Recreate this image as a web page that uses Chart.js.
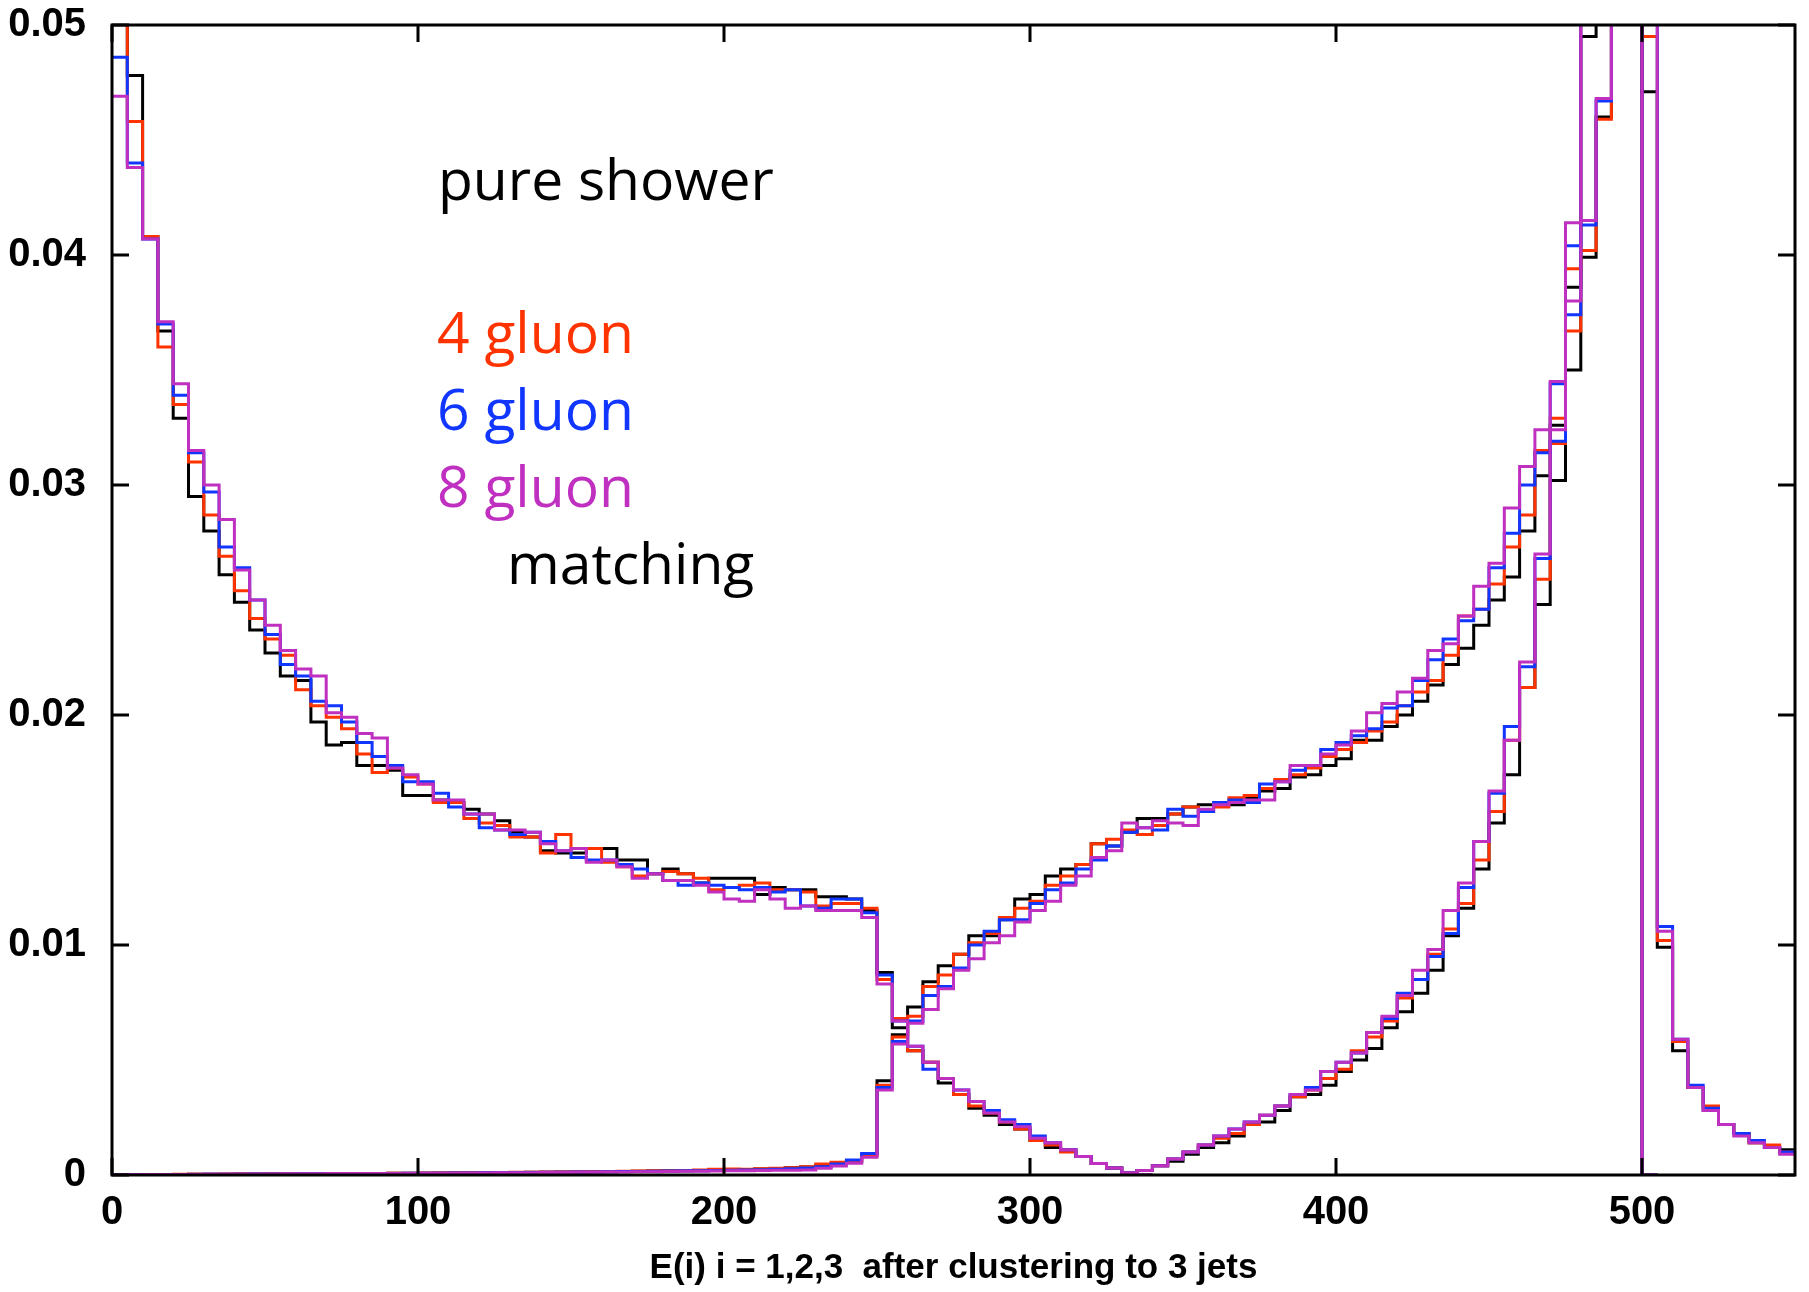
<!DOCTYPE html>
<html>
<head>
<meta charset="utf-8">
<title>E(i) after clustering to 3 jets</title>
<script src="https://cdn.jsdelivr.net/npm/chart.js@4.4.1/dist/chart.umd.min.js"></script>
<style>
  html, body { margin: 0; padding: 0; background: #fff; }
  #wrap { width: 1809px; height: 1292px; }
</style>
</head>
<body>
<div id="wrap"><canvas id="energyChart" width="1809" height="1292"></canvas></div>
<script>
// histogram binning, GeV
const binWidth = 5;
const xMin = 0, xMax = 550;
const yMin = 0, yMax = 0.05;
const xTicks = [0, 100, 200, 300, 400, 500];
const yTicks = [0, 0.01, 0.02, 0.03, 0.04, 0.05];
const yTickLabels = ['0', '0.01', '0.02', '0.03', '0.04', '0.05'];
const xTitle = 'E(i) i = 1,2,3  after clustering to 3 jets';

// index of the first bin stored in each array
const e3FirstBin = 0;
const e2FirstBin = 0;
const e1FirstBin = 66;

// softest jet E3
const e3Shower = [
  0.0550, 0.0478, 0.0408, 0.0367, 0.0329, 0.0295, 0.0280, 0.0261, 0.0249, 0.0237,
  0.0227, 0.0217, 0.0215, 0.0197, 0.0187, 0.0188, 0.0178, 0.0178, 0.0176, 0.0165,
  0.0165, 0.0163, 0.0162, 0.0159, 0.0157, 0.0154, 0.0149, 0.0147, 0.0141, 0.0140,
  0.0140, 0.0142, 0.0142, 0.0137, 0.0137, 0.0131, 0.0133, 0.0131, 0.0127, 0.0129,
  0.0129, 0.0129, 0.0122, 0.0125, 0.0124, 0.0124, 0.0121, 0.0121, 0.0120, 0.0115,
  0.0088, 0.0064, 0.0054, 0.0049, 0.0040, 0.0035, 0.0029, 0.0026, 0.0022, 0.0020,
  0.0015, 0.0012, 0.0011, 0.0008, 0.0005, 0.0003, 0.0001, 0
];
const e3Gluon4 = [
  0.0530, 0.0458, 0.0408, 0.0360, 0.0335, 0.0310, 0.0287, 0.0269, 0.0254, 0.0242,
  0.0233, 0.0226, 0.0211, 0.0204, 0.0199, 0.0194, 0.0183, 0.0175, 0.0177, 0.0173,
  0.0170, 0.0162, 0.0162, 0.0155, 0.0153, 0.0152, 0.0147, 0.0147, 0.0140, 0.0148,
  0.0142, 0.0142, 0.0136, 0.0134, 0.0130, 0.0131, 0.0132, 0.0131, 0.0129, 0.0124,
  0.0125, 0.0126, 0.0127, 0.0124, 0.0124, 0.0123, 0.0117, 0.0118, 0.0118, 0.0116,
  0.0085, 0.0068, 0.0054, 0.0049, 0.0042, 0.0035, 0.0030, 0.0027, 0.0023, 0.0020,
  0.0015, 0.0013, 0.0010, 0.0008, 0.0005, 0.0003, 0.0001, 0
];
const e3Gluon6 = [
  0.0486, 0.0440, 0.0407, 0.0370, 0.0339, 0.0314, 0.0297, 0.0273, 0.0264, 0.0250,
  0.0235, 0.0222, 0.0217, 0.0206, 0.0204, 0.0197, 0.0188, 0.0182, 0.0178, 0.0171,
  0.0171, 0.0166, 0.0160, 0.0157, 0.0151, 0.0150, 0.0148, 0.0149, 0.0145, 0.0141,
  0.0138, 0.0137, 0.0137, 0.0135, 0.0133, 0.0131, 0.0128, 0.0126, 0.0127, 0.0126,
  0.0125, 0.0124, 0.0125, 0.0123, 0.0124, 0.0117, 0.0116, 0.0120, 0.0120, 0.0114,
  0.0087, 0.0067, 0.0056, 0.0046, 0.0042, 0.0037, 0.0032, 0.0028, 0.0024, 0.0022,
  0.0017, 0.0014, 0.0011, 0.0008, 0.0005, 0.0003, 0.0001, 0
];
const e3Gluon8 = [
  0.0469, 0.0438, 0.0407, 0.0371, 0.0344, 0.0315, 0.0300, 0.0285, 0.0263, 0.0250,
  0.0239, 0.0228, 0.0220, 0.0217, 0.0201, 0.0199, 0.0192, 0.0190, 0.0177, 0.0174,
  0.0170, 0.0163, 0.0163, 0.0157, 0.0157, 0.0150, 0.0150, 0.0149, 0.0144, 0.0141,
  0.0142, 0.0136, 0.0137, 0.0134, 0.0129, 0.0131, 0.0128, 0.0128, 0.0126, 0.0123,
  0.0120, 0.0119, 0.0124, 0.0120, 0.0116, 0.0117, 0.0115, 0.0115, 0.0115, 0.0112,
  0.0083, 0.0067, 0.0056, 0.0049, 0.0042, 0.0037, 0.0032, 0.0027, 0.0023, 0.0021,
  0.0016, 0.0014, 0.0011, 0.0008, 0.0005, 0.0003, 0.0001, 0
];

// middle jet E2
const e2Shower = [
  0, 0.00001, 0.00001, 0.00002, 0.00002, 0.00003, 0.00003, 0.00003, 0.00004, 0.00004,
  0.00004, 0.00005, 0.00005, 0.00006, 0.00006, 0.00006, 0.00007, 0.00007, 0.00008, 0.00008,
  0.00008, 0.00009, 0.00009, 0.00010, 0.00010, 0.00011, 0.00011, 0.00012, 0.00012, 0.00013,
  0.00013, 0.00014, 0.00014, 0.00015, 0.00016, 0.00017, 0.00018, 0.00019, 0.00020, 0.00022,
  0.00023, 0.00024, 0.00026, 0.00028, 0.00031, 0.00035, 0.00042, 0.00050, 0.00058, 0.00090,
  0.0041, 0.0061, 0.0073, 0.0084, 0.0091, 0.0096, 0.0104, 0.0104, 0.0111, 0.0120,
  0.0122, 0.0130, 0.0133, 0.0135, 0.0144, 0.0143, 0.0149, 0.0155, 0.0155, 0.0157,
  0.0160, 0.0161, 0.0161, 0.0161, 0.0164, 0.0167, 0.0168, 0.0173, 0.0174, 0.0178,
  0.0181, 0.0189, 0.0189, 0.0195, 0.0200, 0.0206, 0.0213, 0.0222, 0.0229, 0.0239,
  0.0250, 0.0260, 0.0280, 0.0304, 0.0326, 0.0386, 0.0399, 0.0460, 0.058, 0.068,
  0
];
const e2Gluon4 = [
  0, 0.00001, 0.00002, 0.00002, 0.00003, 0.00003, 0.00003, 0.00004, 0.00004, 0.00004,
  0.00005, 0.00005, 0.00005, 0.00006, 0.00006, 0.00007, 0.00007, 0.00007, 0.00008, 0.00008,
  0.00009, 0.00009, 0.00010, 0.00010, 0.00011, 0.00011, 0.00012, 0.00012, 0.00013, 0.00013,
  0.00014, 0.00015, 0.00015, 0.00016, 0.00017, 0.00018, 0.00019, 0.00020, 0.00022, 0.00025,
  0.00026, 0.00025, 0.00027, 0.00029, 0.00032, 0.00036, 0.00048, 0.00055, 0.00060, 0.00085,
  0.0039, 0.0060, 0.0069, 0.0082, 0.0087, 0.0096, 0.0101, 0.0105, 0.0112, 0.0116,
  0.0119, 0.0126, 0.0130, 0.0135, 0.0144, 0.0146, 0.0150, 0.0148, 0.0152, 0.0157,
  0.0160, 0.0158, 0.0160, 0.0164, 0.0165, 0.0168, 0.0172, 0.0174, 0.0177, 0.0182,
  0.0185, 0.0188, 0.0193, 0.0197, 0.0204, 0.0210, 0.0215, 0.0226, 0.0243, 0.0246,
  0.0257, 0.0273, 0.0287, 0.0315, 0.0329, 0.0394, 0.0402, 0.0459, 0.060, 0.070,
  0
];
const e2Gluon6 = [
  0, 0.00001, 0.00001, 0.00002, 0.00002, 0.00002, 0.00003, 0.00003, 0.00003, 0.00004,
  0.00004, 0.00004, 0.00005, 0.00005, 0.00005, 0.00006, 0.00006, 0.00007, 0.00007, 0.00008,
  0.00008, 0.00008, 0.00009, 0.00009, 0.00010, 0.00010, 0.00011, 0.00011, 0.00012, 0.00012,
  0.00013, 0.00013, 0.00014, 0.00015, 0.00015, 0.00016, 0.00017, 0.00018, 0.00019, 0.00020,
  0.00021, 0.00022, 0.00023, 0.00025, 0.00027, 0.00030, 0.00036, 0.00048, 0.00065, 0.00094,
  0.0038, 0.0058, 0.0067, 0.0078, 0.0082, 0.0090, 0.0100, 0.0106, 0.0111, 0.0111,
  0.0118, 0.0124, 0.0127, 0.0133, 0.0137, 0.0143, 0.0149, 0.0151, 0.0150, 0.0159,
  0.0156, 0.0158, 0.0162, 0.0163, 0.0162, 0.0170, 0.0171, 0.0176, 0.0178, 0.0185,
  0.0188, 0.0191, 0.0194, 0.0203, 0.0204, 0.0215, 0.0224, 0.0233, 0.0241, 0.0246,
  0.0264, 0.0279, 0.0300, 0.0314, 0.0344, 0.0404, 0.0413, 0.0467, 0.061, 0.071,
  0
];
const e2Gluon8 = [
  0, 0.00001, 0.00002, 0.00002, 0.00002, 0.00003, 0.00003, 0.00003, 0.00004, 0.00004,
  0.00004, 0.00005, 0.00005, 0.00005, 0.00006, 0.00006, 0.00006, 0.00007, 0.00007, 0.00007,
  0.00008, 0.00008, 0.00008, 0.00009, 0.00009, 0.00010, 0.00010, 0.00010, 0.00011, 0.00011,
  0.00012, 0.00012, 0.00013, 0.00013, 0.00014, 0.00014, 0.00015, 0.00016, 0.00016, 0.00017,
  0.00018, 0.00019, 0.00020, 0.00021, 0.00021, 0.00022, 0.00029, 0.00039, 0.00051, 0.00077,
  0.0037, 0.0057, 0.0066, 0.0072, 0.0081, 0.0089, 0.0094, 0.0101, 0.0104, 0.0110,
  0.0115, 0.0119, 0.0126, 0.0130, 0.0138, 0.0141, 0.0153, 0.0151, 0.0154, 0.0153,
  0.0152, 0.0159, 0.0161, 0.0162, 0.0163, 0.0163, 0.0171, 0.0178, 0.0178, 0.0183,
  0.0187, 0.0193, 0.0201, 0.0205, 0.0210, 0.0216, 0.0228, 0.0231, 0.0243, 0.0256,
  0.0266, 0.0290, 0.0308, 0.0324, 0.0345, 0.0414, 0.0415, 0.0468, 0.062, 0.072,
  0
];

// hardest jet E1
const e1Shower = [
  0, 0.0002, 0.0004, 0.0006, 0.0009, 0.0012, 0.0014, 0.0017, 0.0022, 0.0023,
  0.0028, 0.0034, 0.0035, 0.0039, 0.0045, 0.0050, 0.0055, 0.0064, 0.0071, 0.0079,
  0.0089, 0.0104, 0.0116, 0.0133, 0.0153, 0.0174, 0.0212, 0.0248, 0.0302, 0.0350,
  0.0495, 0.066, 0.077, 0.086, 0.0471, 0.0099, 0.0054, 0.0038, 0.0028, 0.0022,
  0.0018, 0.0014, 0.0012, 0.0011
];
const e1Gluon4 = [
  0, 0.0002, 0.0004, 0.0007, 0.0010, 0.0013, 0.0016, 0.0018, 0.0022, 0.0026,
  0.0030, 0.0034, 0.0037, 0.0042, 0.0046, 0.0054, 0.0060, 0.0067, 0.0077, 0.0085,
  0.0096, 0.0107, 0.0118, 0.0137, 0.0158, 0.0189, 0.0212, 0.0259, 0.0318, 0.0367,
  0.054, 0.071, 0.081, 0.091, 0.0495, 0.0102, 0.0058, 0.0038, 0.0030, 0.0022,
  0.0018, 0.0014, 0.0013, 0.0010
];
const e1Gluon6 = [
  0, 0.0002, 0.0004, 0.0007, 0.0010, 0.0013, 0.0017, 0.0020, 0.0023, 0.0026,
  0.0030, 0.0035, 0.0038, 0.0045, 0.0049, 0.0053, 0.0062, 0.0068, 0.0079, 0.0085,
  0.0095, 0.0105, 0.0125, 0.0145, 0.0166, 0.0195, 0.0221, 0.0268, 0.0319, 0.0374,
  0.056, 0.073, 0.083, 0.093, 0.055, 0.0108, 0.0059, 0.0039, 0.0029, 0.0022,
  0.0018, 0.0015, 0.0012, 0.0010
];
const e1Gluon8 = [
  0, 0.0002, 0.0004, 0.0007, 0.0010, 0.0013, 0.0017, 0.0020, 0.0023, 0.0026,
  0.0030, 0.0035, 0.0037, 0.0045, 0.0049, 0.0053, 0.0062, 0.0069, 0.0078, 0.0089,
  0.0098, 0.0115, 0.0127, 0.0145, 0.0167, 0.0189, 0.0223, 0.0270, 0.0324, 0.0380,
  0.058, 0.075, 0.085, 0.095, 0.058, 0.0106, 0.0059, 0.0038, 0.0028, 0.0022,
  0.0017, 0.0014, 0.0012, 0.0009
];

const COLORS = {
  shower: '#000000',
  gluon4: '#ff3300',
  gluon6: '#1036ff',
  gluon8: '#c030c0'
};

// bin contents -> points for a stepped line, closed at the right edge of the last bin
function histPoints(values, firstBin) {
  const pts = values.map((v, i) => ({ x: (firstBin + i) * binWidth, y: v }));
  pts.push({ x: (firstBin + values.length) * binWidth, y: values[values.length - 1] });
  return pts;
}

function histSet(values, firstBin, color) {
  return {
    data: histPoints(values, firstBin),
    borderColor: color,
    borderWidth: 3,
    stepped: true,
    pointRadius: 0,
    fill: false,
    borderJoinStyle: 'miter'
  };
}

// first dataset ends up on top, so the 8 gluon curves go first
const datasets = [
  histSet(e1Gluon8, e1FirstBin, COLORS.gluon8),
  histSet(e2Gluon8, e2FirstBin, COLORS.gluon8),
  histSet(e3Gluon8, e3FirstBin, COLORS.gluon8),
  histSet(e1Gluon6, e1FirstBin, COLORS.gluon6),
  histSet(e2Gluon6, e2FirstBin, COLORS.gluon6),
  histSet(e3Gluon6, e3FirstBin, COLORS.gluon6),
  histSet(e1Gluon4, e1FirstBin, COLORS.gluon4),
  histSet(e2Gluon4, e2FirstBin, COLORS.gluon4),
  histSet(e3Gluon4, e3FirstBin, COLORS.gluon4),
  histSet(e1Shower, e1FirstBin, COLORS.shower),
  histSet(e2Shower, e2FirstBin, COLORS.shower),
  histSet(e3Shower, e3FirstBin, COLORS.shower)
];

const tickFont = { family: '"Liberation Sans", Arial, sans-serif', size: 40, weight: 'bold' };
const titleFont = { family: '"Liberation Sans", Arial, sans-serif', size: 35, weight: 'bold' };

// box around the plot with ticks pointing inwards on all four sides
const frameAndTicks = {
  id: 'frameAndTicks',
  afterDatasetsDraw(chart) {
    const { ctx, chartArea: a, scales: { x, y } } = chart;
    const len = 17;
    ctx.save();
    ctx.strokeStyle = '#000';
    ctx.lineWidth = 3;
    ctx.strokeRect(a.left, a.top, a.right - a.left, a.bottom - a.top);
    ctx.beginPath();
    x.ticks.forEach(t => {
      const px = x.getPixelForValue(t.value);
      ctx.moveTo(px, a.bottom); ctx.lineTo(px, a.bottom - len);
      ctx.moveTo(px, a.top); ctx.lineTo(px, a.top + len);
    });
    y.ticks.forEach(t => {
      const py = y.getPixelForValue(t.value);
      ctx.moveTo(a.left, py); ctx.lineTo(a.left + len, py);
      ctx.moveTo(a.right, py); ctx.lineTo(a.right - len, py);
    });
    ctx.stroke();
    ctx.restore();
  }
};

// key text inside the plot
const keyText = {
  id: 'keyText',
  afterDraw(chart) {
    const { ctx } = chart;
    ctx.save();
    ctx.font = '57px "Open Sans", "Noto Sans", sans-serif';
    ctx.textBaseline = 'alphabetic';
    ctx.textAlign = 'left';
    const rows = [
      ['pure shower', COLORS.shower, 438, 200],
      ['4 gluon', COLORS.gluon4, 437, 353],
      ['6 gluon', COLORS.gluon6, 437, 430],
      ['8 gluon', COLORS.gluon8, 437, 507],
      ['matching', COLORS.shower, 507, 584]
    ];
    rows.forEach(([text, color, x, y]) => {
      ctx.fillStyle = color;
      ctx.fillText(text, x, y);
    });
    ctx.restore();
  }
};

new Chart(document.getElementById('energyChart'), {
  type: 'line',
  data: { datasets },
  options: {
    responsive: false,
    animation: false,
    events: [],
    layout: { padding: { left: 0, right: 14, top: 25, bottom: 0 } },
    plugins: {
      legend: { display: false },
      tooltip: { enabled: false }
    },
    scales: {
      x: {
        type: 'linear',
        min: xMin,
        max: xMax,
        grid: { display: false, drawTicks: false },
        border: { display: false },
        afterBuildTicks: scale => { scale.ticks = xTicks.map(v => ({ value: v })); },
        afterFit: scale => {
          scale.height = 117;
          scale.paddingLeft = 0;
          scale.paddingRight = 0;
        },
        ticks: {
          autoSkip: false,
          maxRotation: 0,
          padding: 14,
          color: '#000',
          font: tickFont,
          callback: v => String(v)
        },
        title: {
          display: true,
          text: xTitle,
          color: '#000',
          font: titleFont,
          padding: { top: 0, bottom: 3 }
        }
      },
      y: {
        type: 'linear',
        min: yMin,
        max: yMax,
        grid: { display: false, drawTicks: false },
        border: { display: false },
        afterBuildTicks: scale => { scale.ticks = yTicks.map(v => ({ value: v })); },
        afterFit: scale => {
          scale.width = 112;
          scale.paddingTop = 0;
          scale.paddingBottom = 0;
        },
        ticks: {
          autoSkip: false,
          padding: 26,
          color: '#000',
          font: tickFont,
          callback: (v, i) => yTickLabels[i]
        }
      }
    }
  },
  plugins: [frameAndTicks, keyText]
});
</script>
</body>
</html>
